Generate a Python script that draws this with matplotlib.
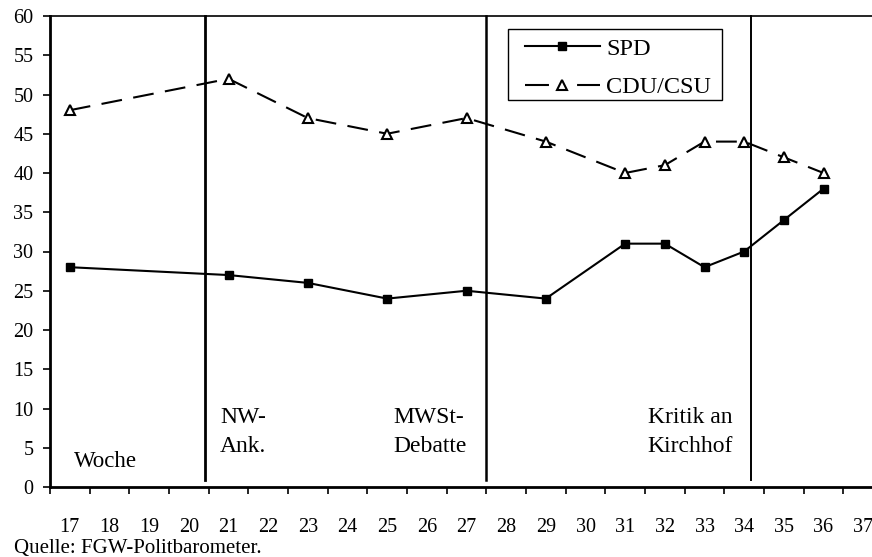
import matplotlib.pyplot as plt
from matplotlib.lines import Line2D
from matplotlib.patches import Rectangle
import numpy as np

plt.rcParams['font.family'] = ['Liberation Serif', 'DejaVu Serif']

# Umfragewerte je Kalenderwoche
wochen = [17, 21, 23, 25, 27, 29, 31, 32, 33, 34, 35, 36]
spd = [28, 27, 26, 24, 25, 24, 31, 31, 28, 30, 34, 38]
cdu_csu = [48, 52, 47, 45, 47, 44, 40, 41, 44, 44, 42, 40]

tick_wochen = list(range(17, 38))

# Ereignisse: Position der Trennlinie und Beschriftung
ereignis_linien = [20.42, 27.48, 34.16]
ereignis_breiten = [2.0, 1.8, 1.4]
ereignis_texte = ["NW-\nAnk.", "MWSt-\nDebatte", "Kritik an\nKirchhof"]
ereignis_text_x = [20.79, 25.15, 31.57]

fig = plt.figure(figsize=(8.72, 5.57), dpi=100)
ax = fig.add_axes([50 / 872, 70 / 557, 833 / 872, 471 / 557])

spd_style = dict(color='black', lw=1.5, marker='s', markersize=5.5)
cdu_style = dict(color='black', lw=1.5, marker='^', markersize=7,
                 markerfacecolor='white', markeredgewidth=1.5)

ax.plot(wochen, spd, **spd_style)
ax.plot(wochen, cdu_csu, dashes=(10, 5.5), **cdu_style)

for x, lw in zip(ereignis_linien, ereignis_breiten):
    ax.plot([x, x], [0.9, 60], color='black', lw=lw, clip_on=False)

for x, txt in zip(ereignis_text_x, ereignis_texte):
    ax.text(x, 7.0, txt, fontsize=17, va='center', ha='left',
            linespacing=1.5)
ax.text(17.1, 3.2, "Woche", fontsize=16.5, va='center', ha='left')

ax.set_xlim(16.5, 37.5)
ax.set_ylim(0, 60)

# Kategorienachse: Striche zwischen den Wochen, Beschriftung mittig
ax.set_xticks(np.arange(16.5, 38, 1.0))
ax.set_xticklabels([])
ax.set_xticks(tick_wochen, minor=True)
ax.set_xticklabels([str(w) for w in tick_wochen], minor=True)
ax.tick_params(axis='x', which='major', direction='out', length=5,
               width=1.2)
ax.tick_params(axis='x', which='minor', length=0, pad=22, labelsize=14.5)

ax.set_yticks(range(0, 61, 5))
ax.tick_params(axis='y', direction='out', length=5, width=1.2, pad=7,
               labelsize=14.5)

ax.spines['right'].set_visible(False)
ax.spines['left'].set_linewidth(2)
ax.spines['bottom'].set_linewidth(2)
ax.spines['top'].set_linewidth(1.2)

# Legende mit eigenen Handles (langer Strich - Dreieck - langer Strich)
handles = [Line2D([], [], **spd_style),
           Line2D([], [], dashes=(11.5, 13.5), **cdu_style)]
leg = ax.legend(handles, ['SPD', 'CDU/CSU'], loc='upper left',
                bbox_to_anchor=(516 / 872, 1 - 29 / 557),
                bbox_transform=fig.transFigure, fontsize=17.5, frameon=False,
                handlelength=3.1, handletextpad=0.25,
                labelspacing=0.68, borderpad=0.35, borderaxespad=0)

# Rahmen der Legende separat, damit der Innenabstand passt
fig.patches.append(Rectangle((508 / 872, 1 - 100 / 557), 214 / 872, 71 / 557,
                             transform=fig.transFigure, fill=False,
                             edgecolor='black', lw=1.0, zorder=5))

fig.text(14 / 872, 1 - 548 / 557, "Quelle: FGW-Politbarometer.",
         fontsize=15, va='center', ha='left')

fig.savefig('out.png', dpi=100)
